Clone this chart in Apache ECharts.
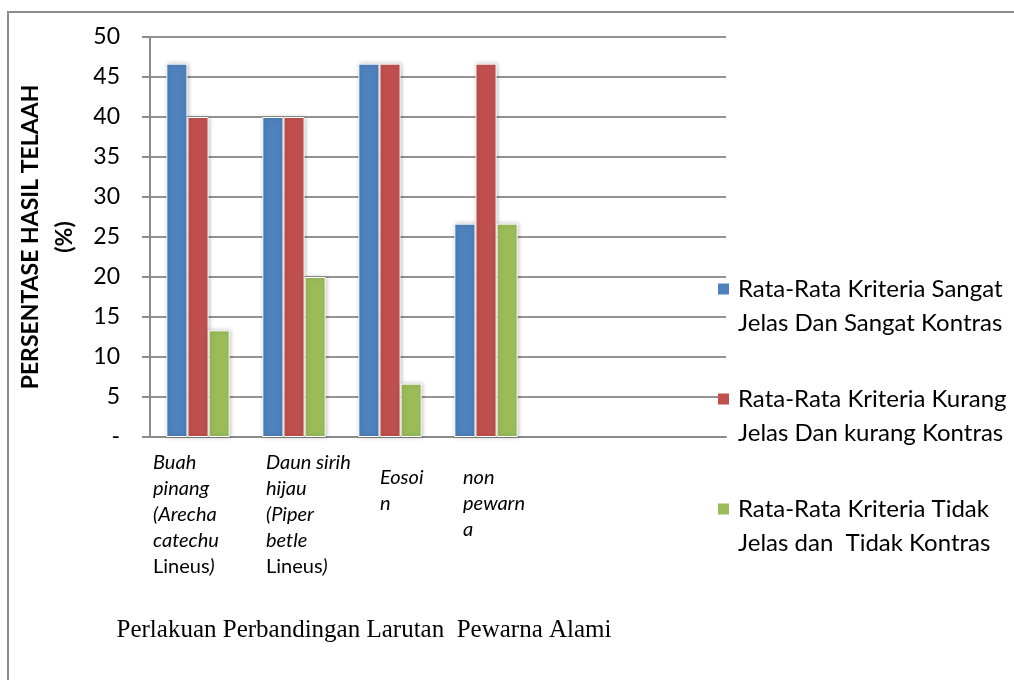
<!DOCTYPE html>
<html>
<head>
<meta charset="utf-8">
<script src="https://cdn.jsdelivr.net/npm/echarts@6/dist/echarts.min.js"></script>
<style>
  html, body { margin: 0; padding: 0; background: #fff; }
  #chart { width: 1014px; height: 680px; }
</style>
</head>
<body>
<div id="chart"></div>
<script>
// data
var categories = [
  'Buah\npinang\n(Arecha\ncatechu\nLineus)',
  'Daun sirih\nhijau\n(Piper\nbetle\nLineus)',
  'Eosoi\nn',
  'non\npewarn\na',
  ' ',
  '  '
];
var seriesNames = [
  'Rata-Rata Kriteria Sangat\nJelas Dan Sangat Kontras',
  'Rata-Rata Kriteria Kurang\nJelas Dan kurang Kontras',
  'Rata-Rata Kriteria Tidak\nJelas dan  Tidak Kontras'
];
var sangatJelas = [46.67, 40, 46.67, 26.67];
var kurangJelas = [40, 40, 46.67, 46.67];
var tidakJelas = [13.33, 20, 6.67, 26.67];

var colors = ['#4F81BD', '#C0504D', '#9BBB59'];
// label placement tweaks (style only)
var labelShift = [90, 56, 20, 46, 0, 0];
var labelDrop = [0, 0, 15, 15, 0, 0];

var chart = echarts.init(document.getElementById('chart'));

var xData = categories.map(function (c, i) {
  return { value: c, textStyle: { width: labelShift[i], padding: [labelDrop[i], 0, 0, 0] } };
});

function catLabel(v) {
  if (!v.trim()) return '';
  return v.split('\n').map(function (line) {
    if (line.indexOf('Lineus') === 0) {
      return '{u|Lineus}{i|' + line.slice(6) + '}';
    }
    return '{i|' + line + '}';
  }).join('\n');
}

var rich = {
  gap: { width: 9 },
  ind: { width: 20 },
  t: { fontFamily: 'Lato', fontSize: 24, lineHeight: 34, color: '#000' }
};
colors.forEach(function (c, i) {
  rich['m' + i] = { width: 11, height: 11, backgroundColor: c, verticalAlign: 'middle' };
});

function makeSeries(i, data) {
  return {
    name: seriesNames[i],
    type: 'bar',
    data: data,
    barGap: '0%',
    barCategoryGap: '34%',
    itemStyle: {
      color: colors[i],
      borderColor: '#fff',
      borderWidth: 1,
      shadowBlur: 4,
      shadowColor: 'rgba(0,0,0,0.25)',
      shadowOffsetX: 1
    }
  };
}

var option = {
  backgroundColor: '#fff',
  animation: false,
  graphic: [{
    type: 'rect',
    silent: true,
    shape: { x: 8, y: 12, width: 1200, height: 800 },
    style: { fill: 'none', stroke: '#8c8c8c', lineWidth: 2 }
  }],
  grid: { left: 150, right: 288, top: 37, bottom: 243, outerBoundsMode: 'none' },
  legend: {
    orient: 'vertical',
    left: 712,
    top: 277,
    padding: 0,
    itemWidth: 0,
    itemHeight: 0,
    itemGap: 52,
    selectedMode: false,
    data: seriesNames,
    formatter: function (name) {
      var idx = seriesNames.indexOf(name);
      var lines = name.split('\n');
      return '{m' + idx + '|}{gap|}{t|' + lines[0] + '}\n{ind|}{t|' + lines[1] + '}';
    },
    textStyle: { rich: rich }
  },
  xAxis: {
    type: 'category',
    data: xData,
    name: 'Perlakuan Perbandingan Larutan  Pewarna Alami',
    nameLocation: 'middle',
    nameGap: 181,
    nameTextStyle: {
      fontFamily: 'Liberation Serif',
      fontSize: 25,
      color: '#000',
      padding: [0, 148, 0, 0]
    },
    axisLine: { lineStyle: { color: '#8c8c8c', width: 2 } },
    axisTick: { show: false },
    axisLabel: {
      interval: 0,
      margin: 13,
      align: 'right',
      verticalAlign: 'top',
      overflow: 'none',
      formatter: catLabel,
      rich: {
        i: { fontFamily: 'Lato', fontStyle: 'italic', fontSize: 20, lineHeight: 26, color: '#000', align: 'left' },
        u: { fontFamily: 'Lato', fontSize: 20, lineHeight: 26, color: '#000', align: 'left' }
      }
    }
  },
  yAxis: {
    type: 'value',
    min: 0,
    max: 50,
    interval: 5,
    name: 'PERSENTASE HASIL TELAAH\n(%)',
    nameLocation: 'middle',
    nameGap: 68,
    nameTextStyle: {
      fontFamily: 'Lato',
      fontWeight: 'bold',
      fontSize: 23,
      lineHeight: 34,
      color: '#000'
    },
    axisLine: { show: true, lineStyle: { color: '#8c8c8c', width: 2 } },
    axisTick: { show: true, length: 8, lineStyle: { color: '#8c8c8c', width: 2 } },
    axisLabel: {
      margin: 30,
      fontFamily: 'Lato',
      fontSize: 23,
      color: '#000',
      formatter: function (v) { return v === 0 ? '-' : v; }
    },
    splitLine: { lineStyle: { color: '#939393', width: 2 } }
  },
  series: [
    makeSeries(0, sangatJelas),
    makeSeries(1, kurangJelas),
    makeSeries(2, tidakJelas)
  ]
};

chart.setOption(option);
</script>
</body>
</html>
